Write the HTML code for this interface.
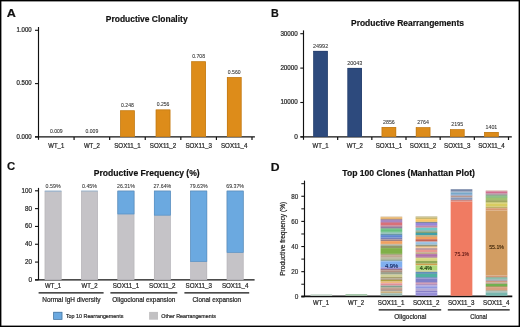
<!DOCTYPE html>
<html><head><meta charset="utf-8"><title>Figure</title>
<style>
html,body{margin:0;padding:0;background:#fff;width:520px;height:327px;overflow:hidden;}
svg{display:block;will-change:transform;}
text{font-family:"Liberation Sans",sans-serif;}
text.r{stroke:#262626;stroke-width:0.22px;}
</style></head><body>
<svg width="520" height="327" viewBox="0 0 520 327">
<rect x="0" y="0" width="520" height="327" fill="#fff"/>
<text stroke="#111" stroke-width="0.18" x="6.80" y="17.04" font-size="11.0" font-weight="bold" fill="#111" textLength="9.10" lengthAdjust="spacingAndGlyphs">A</text>
<text stroke="#111" stroke-width="0.18" x="105.80" y="22.19" font-size="8.5" font-weight="bold" fill="#111" textLength="81.80" lengthAdjust="spacingAndGlyphs">Productive Clonality</text>
<line x1="38.50" y1="27.00" x2="38.50" y2="139.80" stroke="#111" stroke-width="1.15"/>
<line x1="35.00" y1="136.90" x2="254.90" y2="136.90" stroke="#111" stroke-width="1.4"/>
<line x1="35.00" y1="30.30" x2="38.50" y2="30.30" stroke="#111" stroke-width="1.1"/>
<text stroke="#262626" stroke-width="0.22" x="16.55" y="31.96" font-size="6.3" font-weight="normal" fill="#262626" textLength="15.10" lengthAdjust="spacingAndGlyphs">1.000</text>
<line x1="35.00" y1="83.60" x2="38.50" y2="83.60" stroke="#111" stroke-width="1.1"/>
<text stroke="#262626" stroke-width="0.22" x="16.55" y="85.26" font-size="6.3" font-weight="normal" fill="#262626" textLength="15.10" lengthAdjust="spacingAndGlyphs">0.500</text>
<line x1="35.00" y1="136.90" x2="38.50" y2="136.90" stroke="#111" stroke-width="1.1"/>
<text stroke="#262626" stroke-width="0.22" x="16.55" y="138.56" font-size="6.3" font-weight="normal" fill="#262626" textLength="15.10" lengthAdjust="spacingAndGlyphs">0.000</text>
<line x1="74.08" y1="136.90" x2="74.08" y2="140.00" stroke="#111" stroke-width="1.2"/>
<line x1="109.67" y1="136.90" x2="109.67" y2="140.00" stroke="#111" stroke-width="1.2"/>
<line x1="145.25" y1="136.90" x2="145.25" y2="140.00" stroke="#111" stroke-width="1.2"/>
<line x1="180.83" y1="136.90" x2="180.83" y2="140.00" stroke="#111" stroke-width="1.2"/>
<line x1="216.42" y1="136.90" x2="216.42" y2="140.00" stroke="#111" stroke-width="1.2"/>
<line x1="252.00" y1="136.90" x2="252.00" y2="140.00" stroke="#111" stroke-width="1.2"/>
<text stroke="#333" stroke-width="0.08" x="49.89" y="132.64" font-size="5.3" font-weight="normal" fill="#333" textLength="12.80" lengthAdjust="spacingAndGlyphs">0.009</text>
<text stroke="#262626" stroke-width="0.22" x="48.29" y="148.36" font-size="6.6" font-weight="normal" fill="#262626" textLength="16.00" lengthAdjust="spacingAndGlyphs">WT<tspan dy="-0.9">_</tspan><tspan dy="0.9">1</tspan></text>
<text stroke="#333" stroke-width="0.08" x="85.47" y="132.64" font-size="5.3" font-weight="normal" fill="#333" textLength="12.80" lengthAdjust="spacingAndGlyphs">0.009</text>
<text stroke="#262626" stroke-width="0.22" x="83.88" y="148.36" font-size="6.6" font-weight="normal" fill="#262626" textLength="16.00" lengthAdjust="spacingAndGlyphs">WT<tspan dy="-0.9">_</tspan><tspan dy="0.9">2</tspan></text>
<rect x="120.21" y="110.46" width="14.50" height="26.44" fill="#DD8C1A"/>
<rect x="120.51" y="110.76" width="13.90" height="25.84" fill="none" stroke="#BB7716" stroke-width="0.6"/>
<text stroke="#333" stroke-width="0.08" x="121.06" y="107.16" font-size="5.3" font-weight="normal" fill="#333" textLength="12.80" lengthAdjust="spacingAndGlyphs">0.248</text>
<text stroke="#262626" stroke-width="0.22" x="114.21" y="148.36" font-size="6.6" font-weight="normal" fill="#262626" textLength="26.50" lengthAdjust="spacingAndGlyphs">SOX11<tspan dy="-0.9">_</tspan><tspan dy="0.9">1</tspan></text>
<rect x="155.79" y="109.61" width="14.50" height="27.29" fill="#DD8C1A"/>
<rect x="156.09" y="109.91" width="13.90" height="26.69" fill="none" stroke="#BB7716" stroke-width="0.6"/>
<text stroke="#333" stroke-width="0.08" x="156.64" y="106.31" font-size="5.3" font-weight="normal" fill="#333" textLength="12.80" lengthAdjust="spacingAndGlyphs">0.256</text>
<text stroke="#262626" stroke-width="0.22" x="149.79" y="148.36" font-size="6.6" font-weight="normal" fill="#262626" textLength="26.50" lengthAdjust="spacingAndGlyphs">SOX11<tspan dy="-0.9">_</tspan><tspan dy="0.9">2</tspan></text>
<rect x="191.38" y="61.43" width="14.50" height="75.47" fill="#DD8C1A"/>
<rect x="191.68" y="61.73" width="13.90" height="74.87" fill="none" stroke="#BB7716" stroke-width="0.6"/>
<text stroke="#333" stroke-width="0.08" x="192.22" y="58.12" font-size="5.3" font-weight="normal" fill="#333" textLength="12.80" lengthAdjust="spacingAndGlyphs">0.708</text>
<text stroke="#262626" stroke-width="0.22" x="185.38" y="148.36" font-size="6.6" font-weight="normal" fill="#262626" textLength="26.50" lengthAdjust="spacingAndGlyphs">SOX11<tspan dy="-0.9">_</tspan><tspan dy="0.9">3</tspan></text>
<rect x="226.96" y="77.20" width="14.50" height="59.70" fill="#DD8C1A"/>
<rect x="227.26" y="77.50" width="13.90" height="59.10" fill="none" stroke="#BB7716" stroke-width="0.6"/>
<text stroke="#333" stroke-width="0.08" x="227.81" y="73.90" font-size="5.3" font-weight="normal" fill="#333" textLength="12.80" lengthAdjust="spacingAndGlyphs">0.560</text>
<text stroke="#262626" stroke-width="0.22" x="220.96" y="148.36" font-size="6.6" font-weight="normal" fill="#262626" textLength="26.50" lengthAdjust="spacingAndGlyphs">SOX11<tspan dy="-0.9">_</tspan><tspan dy="0.9">4</tspan></text>
<text stroke="#111" stroke-width="0.18" x="270.90" y="17.14" font-size="11.0" font-weight="bold" fill="#111" textLength="7.80" lengthAdjust="spacingAndGlyphs">B</text>
<text stroke="#111" stroke-width="0.18" x="351.00" y="25.88" font-size="8.6" font-weight="bold" fill="#111" textLength="113.00" lengthAdjust="spacingAndGlyphs">Productive Rearrangements</text>
<line x1="303.50" y1="30.40" x2="303.50" y2="139.80" stroke="#111" stroke-width="1.15"/>
<line x1="300.50" y1="136.90" x2="511.80" y2="136.90" stroke="#111" stroke-width="1.4"/>
<line x1="300.30" y1="136.90" x2="303.50" y2="136.90" stroke="#111" stroke-width="1.1"/>
<text stroke="#262626" stroke-width="0.22" x="294.20" y="138.73" font-size="6.5" font-weight="normal" fill="#262626" textLength="3.60" lengthAdjust="spacingAndGlyphs">0</text>
<line x1="300.30" y1="102.50" x2="303.50" y2="102.50" stroke="#111" stroke-width="1.1"/>
<text stroke="#262626" stroke-width="0.22" x="280.40" y="104.33" font-size="6.5" font-weight="normal" fill="#262626" textLength="17.40" lengthAdjust="spacingAndGlyphs">10000</text>
<line x1="300.30" y1="68.10" x2="303.50" y2="68.10" stroke="#111" stroke-width="1.1"/>
<text stroke="#262626" stroke-width="0.22" x="280.40" y="69.93" font-size="6.5" font-weight="normal" fill="#262626" textLength="17.40" lengthAdjust="spacingAndGlyphs">20000</text>
<line x1="300.30" y1="33.70" x2="303.50" y2="33.70" stroke="#111" stroke-width="1.1"/>
<text stroke="#262626" stroke-width="0.22" x="280.40" y="35.53" font-size="6.5" font-weight="normal" fill="#262626" textLength="17.40" lengthAdjust="spacingAndGlyphs">30000</text>
<line x1="337.67" y1="136.90" x2="337.67" y2="140.00" stroke="#111" stroke-width="1.2"/>
<line x1="371.83" y1="136.90" x2="371.83" y2="140.00" stroke="#111" stroke-width="1.2"/>
<line x1="406.00" y1="136.90" x2="406.00" y2="140.00" stroke="#111" stroke-width="1.2"/>
<line x1="440.17" y1="136.90" x2="440.17" y2="140.00" stroke="#111" stroke-width="1.2"/>
<line x1="474.33" y1="136.90" x2="474.33" y2="140.00" stroke="#111" stroke-width="1.2"/>
<line x1="508.50" y1="136.90" x2="508.50" y2="140.00" stroke="#111" stroke-width="1.2"/>
<rect x="313.38" y="50.93" width="14.40" height="85.97" fill="#2D4A7D"/>
<rect x="313.68" y="51.23" width="13.80" height="85.37" fill="none" stroke="#263E6A" stroke-width="0.6"/>
<text stroke="#333" stroke-width="0.08" x="312.98" y="47.80" font-size="5.8" font-weight="normal" fill="#333" textLength="15.20" lengthAdjust="spacingAndGlyphs">24992</text>
<text stroke="#262626" stroke-width="0.22" x="312.58" y="148.36" font-size="6.6" font-weight="normal" fill="#262626" textLength="16.00" lengthAdjust="spacingAndGlyphs">WT<tspan dy="-0.9">_</tspan><tspan dy="0.9">1</tspan></text>
<rect x="347.55" y="67.95" width="14.40" height="68.95" fill="#2D4A7D"/>
<rect x="347.85" y="68.25" width="13.80" height="68.35" fill="none" stroke="#263E6A" stroke-width="0.6"/>
<text stroke="#333" stroke-width="0.08" x="347.15" y="64.83" font-size="5.8" font-weight="normal" fill="#333" textLength="15.20" lengthAdjust="spacingAndGlyphs">20043</text>
<text stroke="#262626" stroke-width="0.22" x="346.75" y="148.36" font-size="6.6" font-weight="normal" fill="#262626" textLength="16.00" lengthAdjust="spacingAndGlyphs">WT<tspan dy="-0.9">_</tspan><tspan dy="0.9">2</tspan></text>
<rect x="381.72" y="127.08" width="14.40" height="9.82" fill="#DD8C1A"/>
<rect x="382.02" y="127.38" width="13.80" height="9.22" fill="none" stroke="#BB7716" stroke-width="0.6"/>
<text stroke="#333" stroke-width="0.08" x="383.02" y="123.95" font-size="5.8" font-weight="normal" fill="#333" textLength="11.80" lengthAdjust="spacingAndGlyphs">2856</text>
<text stroke="#262626" stroke-width="0.22" x="375.67" y="148.36" font-size="6.6" font-weight="normal" fill="#262626" textLength="26.50" lengthAdjust="spacingAndGlyphs">SOX11<tspan dy="-0.9">_</tspan><tspan dy="0.9">1</tspan></text>
<rect x="415.88" y="127.39" width="14.40" height="9.51" fill="#DD8C1A"/>
<rect x="416.18" y="127.69" width="13.80" height="8.91" fill="none" stroke="#BB7716" stroke-width="0.6"/>
<text stroke="#333" stroke-width="0.08" x="417.18" y="124.27" font-size="5.8" font-weight="normal" fill="#333" textLength="11.80" lengthAdjust="spacingAndGlyphs">2764</text>
<text stroke="#262626" stroke-width="0.22" x="409.83" y="148.36" font-size="6.6" font-weight="normal" fill="#262626" textLength="26.50" lengthAdjust="spacingAndGlyphs">SOX11<tspan dy="-0.9">_</tspan><tspan dy="0.9">2</tspan></text>
<rect x="450.05" y="129.35" width="14.40" height="7.55" fill="#DD8C1A"/>
<rect x="450.35" y="129.65" width="13.80" height="6.95" fill="none" stroke="#BB7716" stroke-width="0.6"/>
<text stroke="#333" stroke-width="0.08" x="451.35" y="126.23" font-size="5.8" font-weight="normal" fill="#333" textLength="11.80" lengthAdjust="spacingAndGlyphs">2195</text>
<text stroke="#262626" stroke-width="0.22" x="444.00" y="148.36" font-size="6.6" font-weight="normal" fill="#262626" textLength="26.50" lengthAdjust="spacingAndGlyphs">SOX11<tspan dy="-0.9">_</tspan><tspan dy="0.9">3</tspan></text>
<rect x="484.22" y="132.08" width="14.40" height="4.82" fill="#DD8C1A"/>
<rect x="484.52" y="132.38" width="13.80" height="4.22" fill="none" stroke="#BB7716" stroke-width="0.6"/>
<text stroke="#333" stroke-width="0.08" x="485.52" y="128.96" font-size="5.8" font-weight="normal" fill="#333" textLength="11.80" lengthAdjust="spacingAndGlyphs">1401</text>
<text stroke="#262626" stroke-width="0.22" x="478.17" y="148.36" font-size="6.6" font-weight="normal" fill="#262626" textLength="26.50" lengthAdjust="spacingAndGlyphs">SOX11<tspan dy="-0.9">_</tspan><tspan dy="0.9">4</tspan></text>
<text stroke="#111" stroke-width="0.18" x="6.90" y="170.44" font-size="11.0" font-weight="bold" fill="#111" textLength="8.20" lengthAdjust="spacingAndGlyphs">C</text>
<text stroke="#111" stroke-width="0.18" x="93.80" y="175.94" font-size="8.5" font-weight="bold" fill="#111" textLength="105.90" lengthAdjust="spacingAndGlyphs">Productive Frequency (%)</text>
<line x1="38.50" y1="187.90" x2="38.50" y2="279.90" stroke="#111" stroke-width="1.15"/>
<line x1="35.00" y1="279.90" x2="254.60" y2="279.90" stroke="#111" stroke-width="1.4"/>
<line x1="35.00" y1="279.90" x2="38.50" y2="279.90" stroke="#111" stroke-width="1.1"/>
<text stroke="#262626" stroke-width="0.22" x="28.40" y="281.83" font-size="6.5" font-weight="normal" fill="#262626" textLength="3.60" lengthAdjust="spacingAndGlyphs">0</text>
<line x1="35.00" y1="262.08" x2="38.50" y2="262.08" stroke="#111" stroke-width="1.1"/>
<text stroke="#262626" stroke-width="0.22" x="25.00" y="264.01" font-size="6.5" font-weight="normal" fill="#262626" textLength="7.00" lengthAdjust="spacingAndGlyphs">20</text>
<line x1="35.00" y1="244.26" x2="38.50" y2="244.26" stroke="#111" stroke-width="1.1"/>
<text stroke="#262626" stroke-width="0.22" x="25.00" y="246.19" font-size="6.5" font-weight="normal" fill="#262626" textLength="7.00" lengthAdjust="spacingAndGlyphs">40</text>
<line x1="35.00" y1="226.44" x2="38.50" y2="226.44" stroke="#111" stroke-width="1.1"/>
<text stroke="#262626" stroke-width="0.22" x="25.00" y="228.37" font-size="6.5" font-weight="normal" fill="#262626" textLength="7.00" lengthAdjust="spacingAndGlyphs">60</text>
<line x1="35.00" y1="208.62" x2="38.50" y2="208.62" stroke="#111" stroke-width="1.1"/>
<text stroke="#262626" stroke-width="0.22" x="25.00" y="210.55" font-size="6.5" font-weight="normal" fill="#262626" textLength="7.00" lengthAdjust="spacingAndGlyphs">80</text>
<line x1="35.00" y1="190.80" x2="38.50" y2="190.80" stroke="#111" stroke-width="1.1"/>
<text stroke="#262626" stroke-width="0.22" x="21.60" y="192.73" font-size="6.5" font-weight="normal" fill="#262626" textLength="10.40" lengthAdjust="spacingAndGlyphs">100</text>
<rect x="44.75" y="190.80" width="16.70" height="89.10" fill="#C5C3C7"/>
<rect x="45.05" y="191.10" width="16.10" height="88.50" fill="none" stroke="#B7B5B9" stroke-width="0.6"/>
<rect x="44.75" y="190.80" width="16.70" height="0.53" fill="#6BA9E0"/>
<rect x="45.05" y="191.10" width="16.10" height="-0.07" fill="none" stroke="#5A8FBE" stroke-width="0.6"/>
<text stroke="#333" stroke-width="0.08" x="45.60" y="187.70" font-size="5.6" font-weight="normal" fill="#333" textLength="15.00" lengthAdjust="spacingAndGlyphs">0.59%</text>
<text stroke="#262626" stroke-width="0.22" x="45.10" y="288.21" font-size="6.6" font-weight="normal" fill="#262626" textLength="16.00" lengthAdjust="spacingAndGlyphs">WT<tspan dy="-0.9">_</tspan><tspan dy="0.9">1</tspan></text>
<rect x="81.16" y="190.80" width="16.70" height="89.10" fill="#C5C3C7"/>
<rect x="81.46" y="191.10" width="16.10" height="88.50" fill="none" stroke="#B7B5B9" stroke-width="0.6"/>
<rect x="81.16" y="190.80" width="16.70" height="0.40" fill="#6BA9E0"/>
<rect x="81.46" y="191.10" width="16.10" height="-0.20" fill="none" stroke="#5A8FBE" stroke-width="0.6"/>
<text stroke="#333" stroke-width="0.08" x="82.01" y="187.70" font-size="5.6" font-weight="normal" fill="#333" textLength="15.00" lengthAdjust="spacingAndGlyphs">0.45%</text>
<text stroke="#262626" stroke-width="0.22" x="81.51" y="288.21" font-size="6.6" font-weight="normal" fill="#262626" textLength="16.00" lengthAdjust="spacingAndGlyphs">WT<tspan dy="-0.9">_</tspan><tspan dy="0.9">2</tspan></text>
<rect x="117.57" y="190.80" width="16.70" height="89.10" fill="#C5C3C7"/>
<rect x="117.87" y="191.10" width="16.10" height="88.50" fill="none" stroke="#B7B5B9" stroke-width="0.6"/>
<rect x="117.57" y="190.80" width="16.70" height="23.44" fill="#6BA9E0"/>
<rect x="117.87" y="191.10" width="16.10" height="22.84" fill="none" stroke="#5A8FBE" stroke-width="0.6"/>
<text stroke="#333" stroke-width="0.08" x="117.02" y="187.70" font-size="5.6" font-weight="normal" fill="#333" textLength="17.80" lengthAdjust="spacingAndGlyphs">26.31%</text>
<text stroke="#262626" stroke-width="0.22" x="112.67" y="288.21" font-size="6.6" font-weight="normal" fill="#262626" textLength="26.50" lengthAdjust="spacingAndGlyphs">SOX11<tspan dy="-0.9">_</tspan><tspan dy="0.9">1</tspan></text>
<rect x="153.98" y="190.80" width="16.70" height="89.10" fill="#C5C3C7"/>
<rect x="154.28" y="191.10" width="16.10" height="88.50" fill="none" stroke="#B7B5B9" stroke-width="0.6"/>
<rect x="153.98" y="190.80" width="16.70" height="24.63" fill="#6BA9E0"/>
<rect x="154.28" y="191.10" width="16.10" height="24.03" fill="none" stroke="#5A8FBE" stroke-width="0.6"/>
<text stroke="#333" stroke-width="0.08" x="153.43" y="187.70" font-size="5.6" font-weight="normal" fill="#333" textLength="17.80" lengthAdjust="spacingAndGlyphs">27.64%</text>
<text stroke="#262626" stroke-width="0.22" x="149.08" y="288.21" font-size="6.6" font-weight="normal" fill="#262626" textLength="26.50" lengthAdjust="spacingAndGlyphs">SOX11<tspan dy="-0.9">_</tspan><tspan dy="0.9">2</tspan></text>
<rect x="190.39" y="190.80" width="16.70" height="89.10" fill="#C5C3C7"/>
<rect x="190.69" y="191.10" width="16.10" height="88.50" fill="none" stroke="#B7B5B9" stroke-width="0.6"/>
<rect x="190.39" y="190.80" width="16.70" height="70.95" fill="#6BA9E0"/>
<rect x="190.69" y="191.10" width="16.10" height="70.35" fill="none" stroke="#5A8FBE" stroke-width="0.6"/>
<text stroke="#333" stroke-width="0.08" x="189.84" y="187.70" font-size="5.6" font-weight="normal" fill="#333" textLength="17.80" lengthAdjust="spacingAndGlyphs">79.63%</text>
<text stroke="#262626" stroke-width="0.22" x="185.49" y="288.21" font-size="6.6" font-weight="normal" fill="#262626" textLength="26.50" lengthAdjust="spacingAndGlyphs">SOX11<tspan dy="-0.9">_</tspan><tspan dy="0.9">3</tspan></text>
<rect x="226.80" y="190.80" width="16.70" height="89.10" fill="#C5C3C7"/>
<rect x="227.10" y="191.10" width="16.10" height="88.50" fill="none" stroke="#B7B5B9" stroke-width="0.6"/>
<rect x="226.80" y="190.80" width="16.70" height="61.81" fill="#6BA9E0"/>
<rect x="227.10" y="191.10" width="16.10" height="61.21" fill="none" stroke="#5A8FBE" stroke-width="0.6"/>
<text stroke="#333" stroke-width="0.08" x="226.25" y="187.70" font-size="5.6" font-weight="normal" fill="#333" textLength="17.80" lengthAdjust="spacingAndGlyphs">69.37%</text>
<text stroke="#262626" stroke-width="0.22" x="221.90" y="288.21" font-size="6.6" font-weight="normal" fill="#262626" textLength="26.50" lengthAdjust="spacingAndGlyphs">SOX11<tspan dy="-0.9">_</tspan><tspan dy="0.9">4</tspan></text>
<line x1="38.60" y1="292.80" x2="103.60" y2="292.80" stroke="#111" stroke-width="1.3"/>
<line x1="110.40" y1="292.80" x2="177.30" y2="292.80" stroke="#111" stroke-width="1.3"/>
<line x1="184.40" y1="292.80" x2="249.20" y2="292.80" stroke="#111" stroke-width="1.3"/>
<text stroke="#262626" stroke-width="0.22" x="42.25" y="302.01" font-size="7.0" font-weight="normal" fill="#262626" textLength="58.20" lengthAdjust="spacingAndGlyphs">Normal IgH diversity</text>
<text stroke="#262626" stroke-width="0.22" x="112.25" y="302.01" font-size="7.0" font-weight="normal" fill="#262626" textLength="63.20" lengthAdjust="spacingAndGlyphs">Oligoclonal expansion</text>
<text stroke="#262626" stroke-width="0.22" x="192.45" y="302.01" font-size="7.0" font-weight="normal" fill="#262626" textLength="48.70" lengthAdjust="spacingAndGlyphs">Clonal expansion</text>
<rect x="53.30" y="311.90" width="9.00" height="7.80" fill="#6BA9E0"/>
<rect x="53.65" y="312.25" width="8.30" height="7.10" fill="none" stroke="#4A769C" stroke-width="0.7"/>
<text stroke="#262626" stroke-width="0.22" x="65.95" y="317.75" font-size="6.0" font-weight="normal" fill="#262626" textLength="57.50" lengthAdjust="spacingAndGlyphs">Top 10 Rearrangements</text>
<rect x="149.10" y="311.90" width="8.90" height="7.80" fill="#C2C1C3"/>
<text stroke="#262626" stroke-width="0.22" x="161.35" y="317.75" font-size="6.0" font-weight="normal" fill="#262626" textLength="54.50" lengthAdjust="spacingAndGlyphs">Other Rearrangements</text>
<text stroke="#111" stroke-width="0.18" x="270.80" y="171.14" font-size="11.0" font-weight="bold" fill="#111" textLength="8.80" lengthAdjust="spacingAndGlyphs">D</text>
<text stroke="#111" stroke-width="0.18" x="342.30" y="175.94" font-size="8.5" font-weight="bold" fill="#111" textLength="132.60" lengthAdjust="spacingAndGlyphs">Top 100 Clones (Manhattan Plot)</text>
<line x1="304.50" y1="180.60" x2="304.50" y2="296.80" stroke="#111" stroke-width="1.15"/>
<line x1="301.30" y1="296.40" x2="512.30" y2="296.40" stroke="#111" stroke-width="1.6"/>
<line x1="301.30" y1="296.80" x2="304.50" y2="296.80" stroke="#111" stroke-width="1.1"/>
<text stroke="#333" stroke-width="0.22" x="294.70" y="299.11" font-size="7.0" font-weight="normal" fill="#333" textLength="3.60" lengthAdjust="spacingAndGlyphs">0</text>
<line x1="301.30" y1="284.23" x2="304.50" y2="284.23" stroke="#111" stroke-width="1.0"/>
<line x1="301.30" y1="271.67" x2="304.50" y2="271.67" stroke="#111" stroke-width="1.1"/>
<text stroke="#333" stroke-width="0.22" x="291.30" y="273.97" font-size="7.0" font-weight="normal" fill="#333" textLength="7.00" lengthAdjust="spacingAndGlyphs">20</text>
<line x1="301.30" y1="259.10" x2="304.50" y2="259.10" stroke="#111" stroke-width="1.0"/>
<line x1="301.30" y1="246.53" x2="304.50" y2="246.53" stroke="#111" stroke-width="1.1"/>
<text stroke="#333" stroke-width="0.22" x="291.30" y="248.84" font-size="7.0" font-weight="normal" fill="#333" textLength="7.00" lengthAdjust="spacingAndGlyphs">40</text>
<line x1="301.30" y1="233.97" x2="304.50" y2="233.97" stroke="#111" stroke-width="1.0"/>
<line x1="301.30" y1="221.40" x2="304.50" y2="221.40" stroke="#111" stroke-width="1.1"/>
<text stroke="#333" stroke-width="0.22" x="291.30" y="223.71" font-size="7.0" font-weight="normal" fill="#333" textLength="7.00" lengthAdjust="spacingAndGlyphs">60</text>
<line x1="301.30" y1="208.83" x2="304.50" y2="208.83" stroke="#111" stroke-width="1.0"/>
<line x1="301.30" y1="196.27" x2="304.50" y2="196.27" stroke="#111" stroke-width="1.1"/>
<text stroke="#333" stroke-width="0.22" x="291.30" y="198.57" font-size="7.0" font-weight="normal" fill="#333" textLength="7.00" lengthAdjust="spacingAndGlyphs">80</text>
<line x1="301.30" y1="183.70" x2="304.50" y2="183.70" stroke="#111" stroke-width="1.0"/>
<g transform="translate(285.0,275.8) rotate(-90)">
<text class="r" x="0" y="0" font-size="7.2" fill="#262626" textLength="74" lengthAdjust="spacingAndGlyphs">Productive frequency (%)</text>
</g>
<text stroke="#262626" stroke-width="0.22" x="313.00" y="305.41" font-size="6.6" font-weight="normal" fill="#262626" textLength="16.00" lengthAdjust="spacingAndGlyphs">WT<tspan dy="-0.9">_</tspan><tspan dy="0.9">1</tspan></text>
<text stroke="#262626" stroke-width="0.22" x="348.05" y="305.41" font-size="6.6" font-weight="normal" fill="#262626" textLength="16.00" lengthAdjust="spacingAndGlyphs">WT<tspan dy="-0.9">_</tspan><tspan dy="0.9">2</tspan></text>
<text stroke="#262626" stroke-width="0.22" x="377.85" y="305.41" font-size="6.6" font-weight="normal" fill="#262626" textLength="26.50" lengthAdjust="spacingAndGlyphs">SOX11<tspan dy="-0.9">_</tspan><tspan dy="0.9">1</tspan></text>
<text stroke="#262626" stroke-width="0.22" x="412.90" y="305.41" font-size="6.6" font-weight="normal" fill="#262626" textLength="26.50" lengthAdjust="spacingAndGlyphs">SOX11<tspan dy="-0.9">_</tspan><tspan dy="0.9">2</tspan></text>
<text stroke="#262626" stroke-width="0.22" x="447.95" y="305.41" font-size="6.6" font-weight="normal" fill="#262626" textLength="26.50" lengthAdjust="spacingAndGlyphs">SOX11<tspan dy="-0.9">_</tspan><tspan dy="0.9">3</tspan></text>
<text stroke="#262626" stroke-width="0.22" x="483.00" y="305.41" font-size="6.6" font-weight="normal" fill="#262626" textLength="26.50" lengthAdjust="spacingAndGlyphs">SOX11<tspan dy="-0.9">_</tspan><tspan dy="0.9">4</tspan></text>
<line x1="378.70" y1="309.80" x2="441.20" y2="309.80" stroke="#111" stroke-width="1.2"/>
<line x1="447.80" y1="309.80" x2="509.70" y2="309.80" stroke="#111" stroke-width="1.2"/>
<text stroke="#262626" stroke-width="0.22" x="394.35" y="318.81" font-size="7.0" font-weight="normal" fill="#262626" textLength="32.00" lengthAdjust="spacingAndGlyphs">Oligoclonal</text>
<text stroke="#262626" stroke-width="0.22" x="470.35" y="318.81" font-size="7.0" font-weight="normal" fill="#262626" textLength="16.70" lengthAdjust="spacingAndGlyphs">Clonal</text>
<rect x="310.45" y="294.20" width="21.70" height="1.60" fill="#C8D8CC"/>
<rect x="345.50" y="294.00" width="21.70" height="1.80" fill="#A8C8AC"/>
<rect x="380.55" y="216.60" width="21.70" height="0.70" fill="#C8B088"/>
<rect x="380.55" y="217.30" width="21.70" height="1.60" fill="#E8B060"/>
<rect x="380.55" y="218.90" width="21.70" height="1.10" fill="#A89098"/>
<rect x="380.55" y="220.00" width="21.70" height="2.10" fill="#A888C0"/>
<rect x="380.55" y="222.10" width="21.70" height="0.90" fill="#C07090"/>
<rect x="380.55" y="223.00" width="21.70" height="2.60" fill="#D87078"/>
<rect x="380.55" y="225.60" width="21.70" height="1.20" fill="#B07890"/>
<rect x="380.55" y="226.80" width="21.70" height="1.30" fill="#9080A0"/>
<rect x="380.55" y="228.10" width="21.70" height="1.00" fill="#80A890"/>
<rect x="380.55" y="229.10" width="21.70" height="2.80" fill="#68C080"/>
<rect x="380.55" y="231.90" width="21.70" height="1.70" fill="#90C8B0"/>
<rect x="380.55" y="233.60" width="21.70" height="1.50" fill="#6898A8"/>
<rect x="380.55" y="235.10" width="21.70" height="2.60" fill="#6088D0"/>
<rect x="380.55" y="237.70" width="21.70" height="1.70" fill="#7880B8"/>
<rect x="380.55" y="239.40" width="21.70" height="1.70" fill="#A08080"/>
<rect x="380.55" y="241.10" width="21.70" height="2.80" fill="#F0A060"/>
<rect x="380.55" y="243.90" width="21.70" height="0.80" fill="#C0A880"/>
<rect x="380.55" y="244.70" width="21.70" height="1.30" fill="#A8B0A0"/>
<rect x="380.55" y="246.00" width="21.70" height="2.10" fill="#909868"/>
<rect x="380.55" y="248.10" width="21.70" height="5.80" fill="#80B048"/>
<rect x="380.55" y="253.90" width="21.70" height="1.20" fill="#A8A880"/>
<rect x="380.55" y="255.10" width="21.70" height="2.20" fill="#C0A890"/>
<rect x="380.55" y="257.30" width="21.70" height="1.30" fill="#B0A890"/>
<rect x="380.55" y="258.60" width="21.70" height="1.20" fill="#A0A880"/>
<rect x="380.55" y="259.80" width="21.70" height="1.50" fill="#90A8A8"/>
<rect x="380.55" y="261.30" width="21.70" height="6.00" fill="#80B0F0"/>
<rect x="380.55" y="267.30" width="21.70" height="1.70" fill="#9890D0"/>
<rect x="380.55" y="269.00" width="21.70" height="1.30" fill="#A07888"/>
<rect x="380.55" y="270.30" width="21.70" height="1.70" fill="#B09080"/>
<rect x="380.55" y="272.00" width="21.70" height="1.10" fill="#A0A090"/>
<rect x="380.55" y="273.10" width="21.70" height="1.50" fill="#909880"/>
<rect x="380.55" y="274.60" width="21.70" height="2.30" fill="#D0D098"/>
<rect x="380.55" y="276.90" width="21.70" height="1.50" fill="#A8A070"/>
<rect x="380.55" y="278.40" width="21.70" height="1.50" fill="#A89880"/>
<rect x="380.55" y="279.90" width="21.70" height="1.70" fill="#B0A040"/>
<rect x="380.55" y="281.60" width="21.70" height="1.70" fill="#F0B880"/>
<rect x="380.55" y="283.30" width="21.70" height="1.90" fill="#E09098"/>
<rect x="380.55" y="285.20" width="21.70" height="0.60" fill="#B89098"/>
<rect x="380.55" y="285.80" width="21.70" height="1.50" fill="#80A090"/>
<rect x="380.55" y="287.30" width="21.70" height="1.10" fill="#A8A088"/>
<rect x="380.55" y="288.40" width="21.70" height="1.40" fill="#B08070"/>
<rect x="380.55" y="289.80" width="21.70" height="1.50" fill="#A8A098"/>
<rect x="380.55" y="291.30" width="21.70" height="2.00" fill="#C8B080"/>
<rect x="380.55" y="293.30" width="21.70" height="2.50" fill="#98B8B0"/>
<rect x="415.60" y="216.50" width="21.70" height="0.90" fill="#B0A870"/>
<rect x="415.60" y="217.40" width="21.70" height="1.70" fill="#C8B870"/>
<rect x="415.60" y="219.10" width="21.70" height="2.80" fill="#F8C868"/>
<rect x="415.60" y="221.90" width="21.70" height="1.10" fill="#8088A0"/>
<rect x="415.60" y="223.00" width="21.70" height="2.80" fill="#9888D8"/>
<rect x="415.60" y="225.80" width="21.70" height="1.00" fill="#B86890"/>
<rect x="415.60" y="226.80" width="21.70" height="1.10" fill="#C0A0B0"/>
<rect x="415.60" y="227.90" width="21.70" height="2.30" fill="#70C8C8"/>
<rect x="415.60" y="230.20" width="21.70" height="1.10" fill="#80A8A8"/>
<rect x="415.60" y="231.30" width="21.70" height="1.70" fill="#80A078"/>
<rect x="415.60" y="233.00" width="21.70" height="2.30" fill="#40A0A8"/>
<rect x="415.60" y="235.30" width="21.70" height="1.50" fill="#B0A070"/>
<rect x="415.60" y="236.80" width="21.70" height="2.40" fill="#F0A060"/>
<rect x="415.60" y="239.20" width="21.70" height="2.10" fill="#C46454"/>
<rect x="415.60" y="241.30" width="21.70" height="0.80" fill="#B89098"/>
<rect x="415.60" y="242.10" width="21.70" height="2.60" fill="#98C0E0"/>
<rect x="415.60" y="244.70" width="21.70" height="1.30" fill="#909880"/>
<rect x="415.60" y="246.00" width="21.70" height="1.10" fill="#D0B080"/>
<rect x="415.60" y="247.10" width="21.70" height="1.20" fill="#F0C898"/>
<rect x="415.60" y="248.30" width="21.70" height="1.50" fill="#A88088"/>
<rect x="415.60" y="249.80" width="21.70" height="2.40" fill="#E89890"/>
<rect x="415.60" y="252.20" width="21.70" height="1.90" fill="#C0A888"/>
<rect x="415.60" y="254.10" width="21.70" height="2.80" fill="#B070A8"/>
<rect x="415.60" y="256.90" width="21.70" height="1.20" fill="#C0A0A0"/>
<rect x="415.60" y="258.10" width="21.70" height="2.80" fill="#D8D880"/>
<rect x="415.60" y="260.90" width="21.70" height="2.80" fill="#90A858"/>
<rect x="415.60" y="263.70" width="21.70" height="1.70" fill="#D0A050"/>
<rect x="415.60" y="265.40" width="21.70" height="5.30" fill="#B0D878"/>
<rect x="415.60" y="270.70" width="21.70" height="1.30" fill="#C0C8A0"/>
<rect x="415.60" y="272.00" width="21.70" height="1.90" fill="#6090B8"/>
<rect x="415.60" y="273.90" width="21.70" height="3.20" fill="#50B0A0"/>
<rect x="415.60" y="277.10" width="21.70" height="1.30" fill="#6890B8"/>
<rect x="415.60" y="278.40" width="21.70" height="3.60" fill="#8080C8"/>
<rect x="415.60" y="282.00" width="21.70" height="0.90" fill="#A888B8"/>
<rect x="415.60" y="282.90" width="21.70" height="1.20" fill="#D0A0B8"/>
<rect x="415.60" y="284.10" width="21.70" height="1.30" fill="#A888B8"/>
<rect x="415.60" y="285.40" width="21.70" height="0.90" fill="#A8A0D8"/>
<rect x="415.60" y="286.30" width="21.70" height="1.90" fill="#9098E0"/>
<rect x="415.60" y="288.20" width="21.70" height="0.90" fill="#A0A0D8"/>
<rect x="415.60" y="289.10" width="21.70" height="1.70" fill="#B0A0D0"/>
<rect x="415.60" y="290.80" width="21.70" height="1.60" fill="#8880C8"/>
<rect x="415.60" y="292.40" width="21.70" height="3.40" fill="#9890D8"/>
<rect x="450.65" y="189.20" width="21.70" height="2.40" fill="#7888A8"/>
<rect x="450.65" y="191.60" width="21.70" height="0.80" fill="#8898B8"/>
<rect x="450.65" y="192.40" width="21.70" height="2.20" fill="#78A8C8"/>
<rect x="450.65" y="194.60" width="21.70" height="1.00" fill="#6890C8"/>
<rect x="450.65" y="195.60" width="21.70" height="1.90" fill="#B89890"/>
<rect x="450.65" y="197.50" width="21.70" height="2.40" fill="#8898B8"/>
<rect x="450.65" y="199.90" width="21.70" height="1.70" fill="#D08880"/>
<rect x="450.65" y="201.60" width="21.70" height="94.20" fill="#F07B62"/>
<rect x="485.70" y="190.60" width="21.70" height="0.80" fill="#C09080"/>
<rect x="485.70" y="191.40" width="21.70" height="2.20" fill="#D07090"/>
<rect x="485.70" y="193.60" width="21.70" height="1.20" fill="#A08898"/>
<rect x="485.70" y="194.80" width="21.70" height="1.50" fill="#90B090"/>
<rect x="485.70" y="196.30" width="21.70" height="1.50" fill="#70B068"/>
<rect x="485.70" y="197.80" width="21.70" height="2.30" fill="#A0C070"/>
<rect x="485.70" y="200.10" width="21.70" height="2.10" fill="#A0A860"/>
<rect x="485.70" y="202.20" width="21.70" height="1.10" fill="#C0C060"/>
<rect x="485.70" y="203.30" width="21.70" height="3.40" fill="#D8CC60"/>
<rect x="485.70" y="206.70" width="21.70" height="1.50" fill="#C0B068"/>
<rect x="485.70" y="208.20" width="21.70" height="2.30" fill="#D89870"/>
<rect x="485.70" y="210.50" width="21.70" height="65.10" fill="#D29D62"/>
<rect x="485.70" y="275.60" width="21.70" height="1.50" fill="#D09878"/>
<rect x="485.70" y="277.10" width="21.70" height="1.20" fill="#90A890"/>
<rect x="485.70" y="278.30" width="21.70" height="1.30" fill="#68B098"/>
<rect x="485.70" y="279.60" width="21.70" height="1.30" fill="#A0A0B0"/>
<rect x="485.70" y="280.90" width="21.70" height="1.50" fill="#D09880"/>
<rect x="485.70" y="282.40" width="21.70" height="1.50" fill="#B8A088"/>
<rect x="485.70" y="283.90" width="21.70" height="2.10" fill="#70B050"/>
<rect x="485.70" y="286.00" width="21.70" height="1.10" fill="#A0A060"/>
<rect x="485.70" y="287.10" width="21.70" height="3.00" fill="#D8A080"/>
<rect x="485.70" y="290.10" width="21.70" height="1.20" fill="#B0A890"/>
<rect x="485.70" y="291.30" width="21.70" height="1.50" fill="#98B8B0"/>
<rect x="485.70" y="292.80" width="21.70" height="3.00" fill="#78B8B0"/>
<text stroke="#1a2a66" stroke-width="0.15" x="384.90" y="267.60" font-size="5.6" font-weight="normal" fill="#1a2a66" textLength="13.40" lengthAdjust="spacingAndGlyphs">4.9%</text>
<text stroke="#1c3a10" stroke-width="0.15" x="419.70" y="270.10" font-size="5.6" font-weight="normal" fill="#1c3a10" textLength="12.60" lengthAdjust="spacingAndGlyphs">4.4%</text>
<text stroke="#5a1410" stroke-width="0.12" x="454.60" y="255.83" font-size="5.8" font-weight="normal" fill="#5a1410" textLength="14.40" lengthAdjust="spacingAndGlyphs">75.1%</text>
<text stroke="#3a2206" stroke-width="0.12" x="489.20" y="249.38" font-size="5.8" font-weight="normal" fill="#3a2206" textLength="14.80" lengthAdjust="spacingAndGlyphs">55.1%</text>
<rect x="0.7" y="0.7" width="518.6" height="325.6" fill="none" stroke="#000" stroke-width="1.4"/>
</svg>
</body></html>
